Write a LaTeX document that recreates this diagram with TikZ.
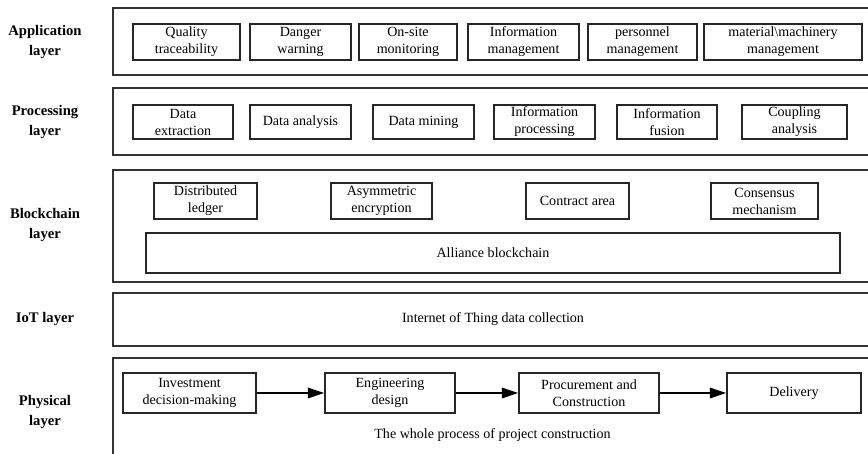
\documentclass[tikz,border=0pt]{standalone}
\usepackage{fontspec}
\setmainfont{Liberation Serif}
\usetikzlibrary{arrows.meta}

\begin{document}
\begin{tikzpicture}[x=0.03cm,y=-0.03cm,
    font=\fontsize{12}{14.5}\selectfont,
    frame/.style={draw=black!80,line width=1.3pt},
    box/.style={draw=black!85,line width=1.3pt,align=center,inner sep=1pt},
    layer/.style={align=center,font=\fontsize{12.5}{16.5}\selectfont\bfseries},
    flow/.style={line width=1.3pt,-{Triangle[length=14pt,width=9pt]}}]
    \useasboundingbox (0,0) rectangle (868,454);
    \clip (0,0) rectangle (868,454);
    % layer frames, open to the right and at the bottom
    \draw[frame] (113,8) rectangle (880,75);
    \draw[frame] (113,88) rectangle (880,155);
    \draw[frame] (113,170) rectangle (880,282);
    \draw[frame] (113,293) rectangle (880,346);
    \draw[frame] (113,358) rectangle (880,470);
    % layer names
    \node[layer] (app) at (45,42) {Application\\layer};
    \node[layer] (proc) at (45,122) {Processing\\layer};
    \node[layer] (chain) at (45,225) {Blockchain\\layer};
    \node[layer] (iot) at (45,319) {IoT layer};
    \node[layer] (phys) at (45,412) {Physical\\layer};
    % application layer
    \begin{scope}[every node/.style={box,minimum height=1.08cm}]
      \node[minimum width=3.21cm] (quality) at (186.5,42) {Quality\\traceability};
      \node[minimum width=3.03cm] (danger) at (300.5,42) {Danger\\warning};
      \node[minimum width=2.94cm] (onsite) at (408,42) {On-site\\monitoring};
      \node[minimum width=3.33cm] (infoman) at (523.5,42) {Information\\management};
      \node[minimum width=3.27cm] (personnel) at (642.5,42) {personnel\\management};
      \node[minimum width=4.74cm] (material) at (783,42) {material\textbackslash machinery\\management};
    \end{scope}
    % processing layer
    \begin{scope}[every node/.style={box,minimum height=1.02cm}]
      \node[minimum width=3.0cm] (extract) at (183,122) {Data\\extraction};
      \node[minimum width=3.03cm] (analysis) at (300.5,122) {Data analysis};
      \node[minimum width=3.03cm] (mining) at (423.5,122) {Data mining};
      \node[minimum width=3.03cm] (infoproc) at (544.5,122) {Information\\processing};
      \node[minimum width=3.0cm] (fusion) at (667,122) {Information\\fusion};
      \node[minimum width=3.15cm] (coupling) at (794.5,122) {Coupling\\analysis};
    \end{scope}
    % blockchain layer
    \begin{scope}[every node/.style={box,minimum height=1.08cm}]
      \node[minimum width=3.09cm] (ledger) at (205.5,201) {Distributed\\ledger};
      \node[minimum width=3.03cm] (encrypt) at (381.5,201) {Asymmetric\\encryption};
      \node[minimum width=3.09cm] (contract) at (577.5,201) {Contract area};
      \node[minimum width=3.21cm] (consensus) at (764.5,201) {Consensus\\mechanism};
    \end{scope}
    \node[box,minimum width=20.82cm,minimum height=1.2cm] (alliance) at (493,253) {Alliance blockchain};
    % IoT layer
    \node (collect) at (493,319) {Internet of Thing data collection};
    % physical layer
    \begin{scope}[every node/.style={box,minimum height=1.2cm}]
      \node[minimum width=3.99cm] (invest) at (189.5,393) {Investment\\decision-making};
      \node[minimum width=3.9cm] (design) at (390,393) {Engineering\\design};
      \node[minimum width=4.2cm] (procure) at (589,393) {Procurement and\\Construction};
      \node[minimum width=4.02cm] (delivery) at (794,393) {Delivery};
    \end{scope}
    \draw[flow] (invest) -- (design);
    \draw[flow] (design) -- (procure);
    \draw[flow] (procure) -- (delivery);
    \node (whole) at (492.5,435) {The whole process of project construction};
  \end{tikzpicture}
\end{document}
